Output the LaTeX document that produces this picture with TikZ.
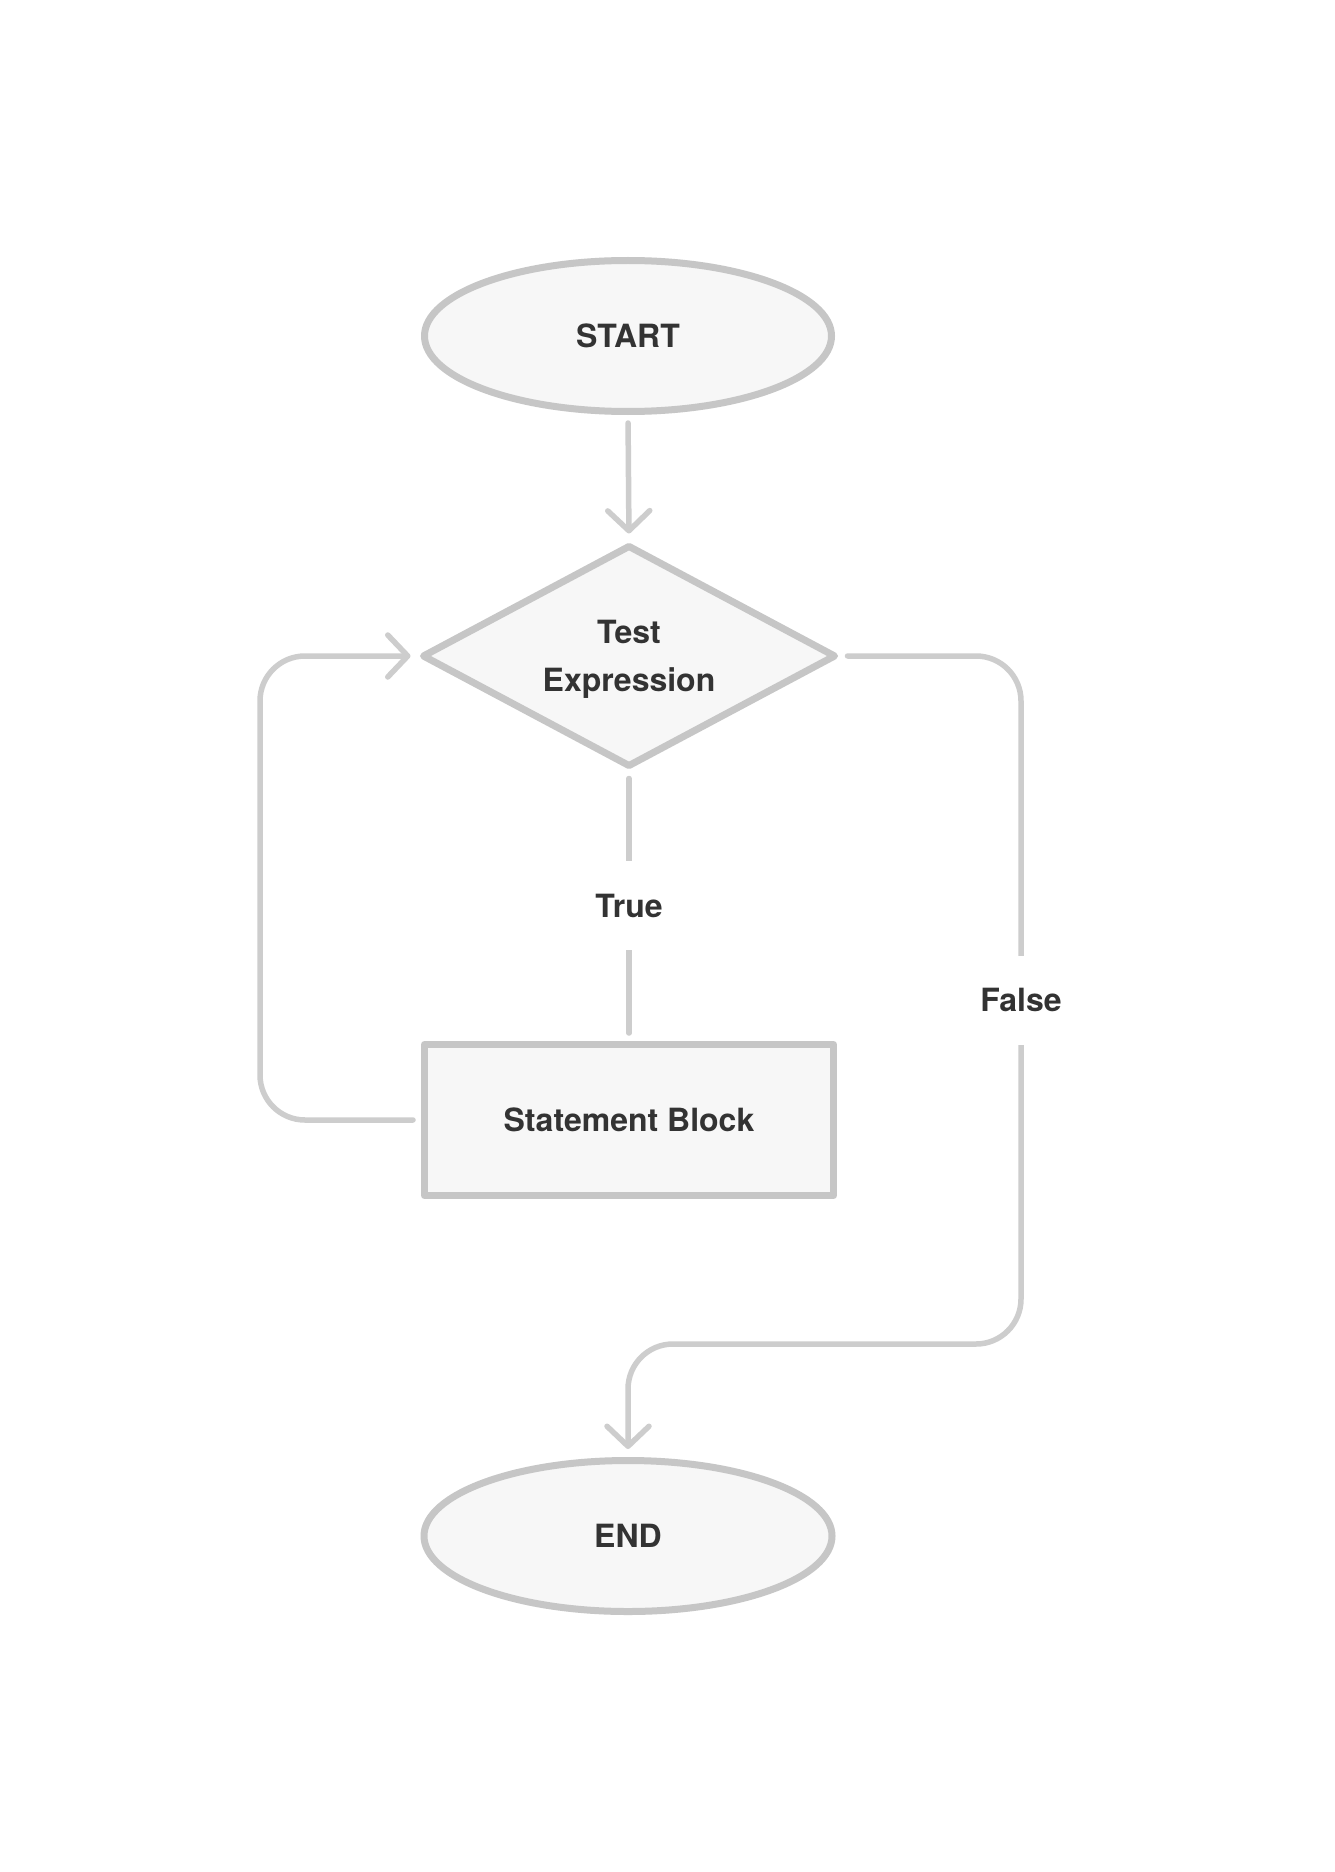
\documentclass[tikz,border=0pt]{standalone}
\usepackage{fontspec}
\setmainfont{TeX Gyre Heros}
\usetikzlibrary{shapes.geometric,arrows.meta}
\definecolor{bordc}{HTML}{C6C6C6}
\definecolor{linec}{HTML}{CDCDCD}
\definecolor{fillc}{HTML}{F7F7F7}
\definecolor{textc}{HTML}{333333}
\begin{document}
\begin{tikzpicture}[x=0.5pt,y=-0.5pt,
  lblfont/.style={font=\bfseries\fontsize{16}{24}\selectfont},
  shapebox/.style={draw=bordc, fill=fillc, line width=3.5pt, inner sep=0pt,
    text=textc, lblfont, line join=round, text depth=0pt},
  conn/.style={draw=linec, line width=2.75pt, line cap=round, line join=round,
    shorten <=4pt, shorten >=4pt},
  arr/.style={-{Straight Barb[length=10pt,width=21pt,round]}},
  lbl/.style={fill=white, text=textc, lblfont, inner sep=0pt, minimum height=44.5pt}]
\fill[white] (0,0) rectangle (1334,1872);
\useasboundingbox (0,0) rectangle (1334,1872);

\node[shapebox, ellipse, minimum width=203.5pt, minimum height=75.5pt] (start) at (628,336) {START};
\node[shapebox, diamond, aspect=1.9, minimum width=207pt, minimum height=111pt, align=center] (test) at (629,656) {Test\\Expression};
\node[shapebox, rectangle, minimum width=204.5pt, minimum height=75.5pt] (stmt) at (629,1120) {Statement Block};
\node[shapebox, ellipse, minimum width=204pt, minimum height=75.5pt] (end) at (628,1536) {END};

\coordinate (lb) at (260,1120);
\coordinate (lt) at (260,656);
\coordinate (rt) at (1021,656);
\coordinate (rb) at (1021,1344);
\coordinate (eb) at (628,1344);

\draw[conn, arr] (start.south) -- (test.north);
\draw[conn] (test.south) -- node[lbl] (true) {True} (stmt.north);
\draw[conn, arr, rounded corners=22.5pt] (stmt.west) -- (lb) -- (lt) -- (test.west);
\draw[conn, arr, rounded corners=22.5pt] (test.east) -- (rt) -- (rb) -- (eb) -- (end.north);
\node[lbl] (false) at (1021,1000) {False};
\end{tikzpicture}
\end{document}
